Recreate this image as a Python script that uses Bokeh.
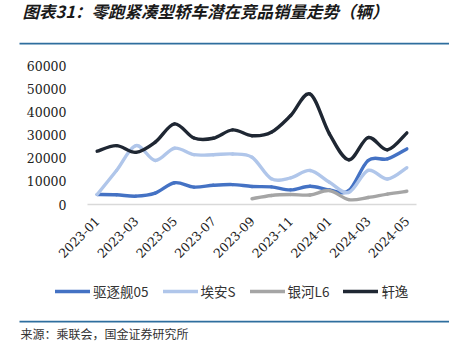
from bokeh.plotting import figure
from bokeh.models import (Range1d, FixedTicker, Label, BoxAnnotation, Legend, LegendItem,
                          ColumnDataSource)
from bokeh.embed import file_html
from bokeh.resources import INLINE
import math

months = ["2023-01", "2023-02", "2023-03", "2023-04", "2023-05", "2023-06", "2023-07",
          "2023-08", "2023-09", "2023-10", "2023-11", "2023-12", "2024-01", "2024-02",
          "2024-03", "2024-04", "2024-05"]
quzhujian05 = [4300, 4200, 3600, 4900, 9400, 7500, 8300, 8600, 7800, 7600, 6300, 7900,
               6300, 6000, 19000, 19700, 24000]
aian_s = [4300, 14700, 25400, 19000, 24300, 21500, 21500, 21800, 20400, 11100, 11500,
          14700, 9600, 5200, 14700, 11000, 15900]
yinhe_l6 = [None, None, None, None, None, None, None, None, 2500, 3900, 4300, 4100,
            6000, 2100, 3000, 4500, 5700]
xuanyi = [23000, 25400, 22500, 26900, 34800, 28700, 28600, 32200, 29700, 31200, 38400,
          47700, 30500, 19300, 28900, 23600, 30900]
y_ticks = [0, 10000, 20000, 30000, 40000, 50000, 60000]

names = ["驱逐舰05", "埃安S", "银河L6", "轩逸"]
colors = ["#4472C4", "#B0C6EA", "#A5A5A5", "#1F2733"]
series = [quzhujian05, aian_s, yinhe_l6, xuanyi]

title_text = "图表31：零跑紧凑型轿车潜在竞品销量走势（辆）"
source_text = "来源：乘联会，国金证券研究所"

W, H = 449, 351
# plot-area position inside the page (pixels from top-left)
PL, PR, PT, PB = 87, 416, 65, 204
n = len(months)
YMAX = y_ticks[-1]
mpx = (PR - PL) / n                 # pixels per month
kpx = YMAX / (PB - PT)              # value per pixel
x_range = Range1d(-0.5 - PL / mpx, n - 0.5 + (W - PR) / mpx)
y_range = Range1d(-(H - PB) * kpx, YMAX + PT * kpx)

CJK = "Noto Sans CJK SC"
RULE_COLOR = "#2E6E9E"

p = figure(width=W, height=H, output_backend="svg", toolbar_location=None,
           x_range=x_range, y_range=y_range,
           min_border=0, min_border_left=0, min_border_right=0,
           min_border_top=0, min_border_bottom=0)
p.outline_line_color = None
p.grid.grid_line_color = None
p.background_fill_color = "white"
p.border_fill_color = "white"

# y axis, pinned at the left edge of the plot area
p.yaxis.fixed_location = -0.5
p.yaxis.bounds = (0, YMAX)
p.yaxis.ticker = FixedTicker(ticks=y_ticks)
p.yaxis.axis_line_color = None
p.yaxis.major_tick_line_color = None
p.yaxis.minor_tick_line_color = None
p.yaxis.major_label_standoff = 15
p.yaxis.major_label_text_font = "DejaVu Serif"
p.yaxis.major_label_text_font_size = "12.5px"
p.yaxis.major_label_text_color = "#222222"

# x axis, pinned at y = 0
p.xaxis.fixed_location = 0
p.xaxis.bounds = (-0.5, n - 0.5)
p.xaxis.ticker = FixedTicker(ticks=list(range(0, n, 2)))
p.xaxis.major_label_overrides = {i: months[i] for i in range(n)}
p.xaxis.axis_line_color = "#D9D9D9"
p.xaxis.axis_line_width = 1.5
p.xaxis.major_tick_line_color = None
p.xaxis.minor_tick_line_color = None
p.xaxis.major_label_orientation = math.pi / 4
p.xaxis.major_label_standoff = 8
p.xaxis.major_label_text_font = "DejaVu Serif"
p.xaxis.major_label_text_font_size = "12.5px"
p.xaxis.major_label_text_color = "#222222"


def bezier_data(vals):
    pts = [(i, v) for i, v in enumerate(vals) if v is not None]
    d = dict(x0=[], y0=[], x1=[], y1=[], cx0=[], cy0=[], cx1=[], cy1=[])
    m = len(pts)
    for i in range(m - 1):
        p0 = pts[i - 1] if i > 0 else pts[i]
        p1 = pts[i]
        p2 = pts[i + 1]
        p3 = pts[i + 2] if i + 2 < m else pts[i + 1]
        d["x0"].append(p1[0]); d["y0"].append(p1[1])
        d["x1"].append(p2[0]); d["y1"].append(p2[1])
        d["cx0"].append(p1[0] + (p2[0] - p0[0]) / 6.0)
        d["cy0"].append(p1[1] + (p2[1] - p0[1]) / 6.0)
        d["cx1"].append(p2[0] - (p3[0] - p1[0]) / 6.0)
        d["cy1"].append(p2[1] - (p3[1] - p1[1]) / 6.0)
    return d


items = []
for name, col, vals in zip(names, colors, series):
    src = ColumnDataSource(bezier_data(vals))
    r = p.bezier(x0="x0", y0="y0", x1="x1", y1="y1", cx0="cx0", cy0="cy0", cx1="cx1",
                 cy1="cy1", source=src, line_color=col, line_width=3.4, line_cap="round")
    items.append(LegendItem(label=name, renderers=[r], index=0))


def sy(y):
    # page y (from top) -> screen units (from bottom of the frame, which is the page)
    return H - y


legend = Legend(items=items, orientation="horizontal", location=(55, sy(300.7)),
                glyph_width=35, glyph_height=16, label_standoff=3, spacing=14,
                padding=0, margin=0, border_line_color=None, background_fill_alpha=0,
                label_text_font=CJK, label_text_font_size="13.5px",
                label_text_color="#333333", label_height=16)
p.add_layout(legend, "center")

p.add_layout(Label(x=22, y=sy(10.5), x_units="screen", y_units="screen", text=title_text,
                   text_font=CJK, text_font_style="bold italic", text_font_size="16.5px",
                   text_color="#1A1A1A", text_baseline="middle"))
for yy in (43.1, 321.1):
    p.add_layout(BoxAnnotation(left=19, right=W, bottom=sy(yy + 0.8), top=sy(yy - 0.8),
                               left_units="screen", right_units="screen",
                               bottom_units="screen", top_units="screen",
                               fill_color=RULE_COLOR, fill_alpha=1, line_color=None))
p.add_layout(Label(x=20, y=sy(333), x_units="screen", y_units="screen", text=source_text,
                   text_font=CJK, text_font_size="12px", text_color="#333333",
                   text_baseline="middle"))

open("out.html", "w").write(file_html(p, INLINE))
